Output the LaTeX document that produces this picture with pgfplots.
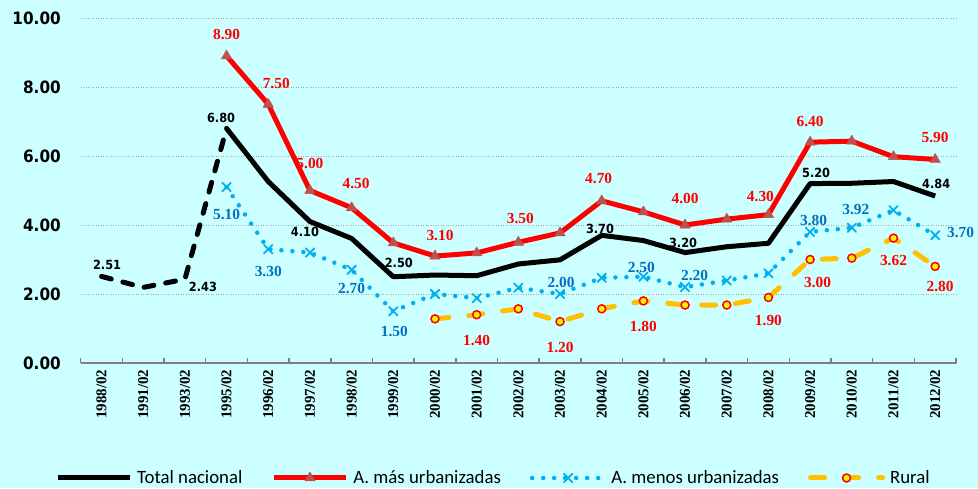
\documentclass[border=0pt]{standalone}
\usepackage{fontspec}
\usepackage{pgfplots}
\pgfplotsset{compat=1.18}
\usepackage{pgfplotstable}
\setmainfont{Liberation Serif}
\newfontfamily\dvs{DejaVu Sans Condensed}
\newfontfamily\carlito{Carlito}
\definecolor{bgcyan}{HTML}{CCFFFF}
\definecolor{axisgray}{HTML}{808080}
\definecolor{gridgray}{HTML}{A6A6A6}
\definecolor{markred}{HTML}{C0504D}
\definecolor{lblue}{HTML}{00B0F0}
\definecolor{dblue}{HTML}{0070C0}
\definecolor{rorange}{HTML}{FFC000}
\newcommand\xfont{\bfseries\fontsize{15}{15}\selectfont}
\newcommand\yfont{\dvs\bfseries\fontsize{17}{17}\selectfont}
\newcommand\blkfont{\dvs\bfseries\fontsize{12.6}{13}\selectfont}
\newcommand\serlab{\bfseries\fontsize{15.4}{16}\selectfont}
\newcommand\legfont{\carlito\fontsize{18.8}{20}\selectfont}

\pgfplotstableread{
x y
0 2.51
1 2.19
2 2.43
3 6.80
}\totaldash
\pgfplotstableread{
x y
3 6.80
4 5.26
5 4.10
6 3.61
7 2.50
8 2.55
9 2.53
10 2.87
11 2.99
12 3.70
13 3.55
14 3.20
15 3.37
16 3.47
17 5.20
18 5.21
19 5.26
20 4.84
}\totalsolid
\pgfplotstableread{
x y
3 8.90
4 7.50
5 5.00
6 4.50
7 3.48
8 3.10
9 3.19
10 3.50
11 3.77
12 4.70
13 4.38
14 4.00
15 4.17
16 4.30
17 6.40
18 6.43
19 5.98
20 5.90
}\mas
\pgfplotstableread{
x y
3 5.10
4 3.30
5 3.20
6 2.70
7 1.50
8 2.00
9 1.88
10 2.18
11 2.00
12 2.47
13 2.50
14 2.20
15 2.39
16 2.60
17 3.80
18 3.92
19 4.43
20 3.70
}\menos
\pgfplotstableread{
x y
8 1.28
9 1.40
10 1.57
11 1.20
12 1.57
13 1.80
14 1.68
15 1.68
16 1.90
17 3.00
18 3.04
19 3.62
20 2.80
}\rural

% label tables: point (x,y), label-centre offset (dx,dy) in pt, label text
\pgfplotstableread{
x y dx dy lab
0 2.51 5.5 11.4 2.51
2 2.43 18 -7.3 2.43
3 6.80 -5.5 10.4 6.80
5 4.10 -5 -10.5 4.10
7 2.50 5.5 13.7 2.50
12 3.70 -1.7 6.5 3.70
14 3.20 -2 10 3.20
17 5.20 6 11 5.20
20 4.84 1 12 4.84
}\blklab
\pgfplotstableread{
x y dx dy lab
3 8.90 0 21.5 8.90
4 7.50 8 21 7.50
5 5.00 0 27.5 5.00
6 4.50 4.5 24.5 4.50
8 3.10 5 20.5 3.10
10 3.50 2 24 3.50
12 4.70 -3 22 4.70
14 4.00 0 27 4.00
16 4.30 -8 18.5 4.30
17 6.40 0 20.7 6.40
20 5.90 0 21.5 5.90
}\maslab
\pgfplotstableread{
x y dx dy lab
3 5.10 0 -27.5 5.10
4 3.30 0 -22 3.30
6 2.70 0 -19 2.70
7 1.50 1 -20 1.50
11 2.00 1 11.5 2.00
13 2.50 -2 9 2.50
14 2.20 9.5 12 2.20
17 3.80 3.5 11 3.80
18 3.92 4 17.8 3.92
20 3.70 25.5 3 3.70
}\menoslab
\pgfplotstableread{
x y dx dy lab
9 1.40 0 -26 1.40
11 1.20 0 -26 1.20
13 1.80 0 -25.6 1.80
16 1.90 0 -23 1.90
17 3.00 7.5 -22.5 3.00
19 3.62 0 -22 3.62
20 2.80 5 -20 2.80
}\rurallab

\pgfplotsset{
  lbl/.style n args={2}{draw=none, mark=none, forget plot,
    nodes near coords, point meta=explicit symbolic,
    every node near coord/.append style={anchor=center, inner sep=0pt, font=#1, text=#2}}
}

\begin{document}
\begin{tikzpicture}
\fill[bgcyan] (-80.7pt,-125pt) rectangle (897.3pt,363pt);
\begin{axis}[
  at={(0pt,0pt)}, anchor=south west,
  scale only axis, width=875.3pt, height=345pt,
  xmin=-0.5, xmax=20.5, ymin=0, ymax=10,
  clip=false,
  axis x line*=bottom, axis y line*=left,
  x axis line style={draw=axisgray, line width=2pt},
  y axis line style={draw=none},
  xtick={0,...,20},
  xticklabels={1988/02,1991/02,1993/02,1995/02,1996/02,1997/02,1998/02,1999/02,2000/02,2001/02,2002/02,2003/02,2004/02,2005/02,2006/02,2007/02,2008/02,2009/02,2010/02,2011/02,2012/02},
  minor xtick={-0.5,0.5,...,20.5},
  ytick={0,2,...,10},
  major tick length=0pt,
  minor tick length=5pt,
  tick align=inside,
  minor tick style={draw=axisgray, line width=1.5pt},
  ymajorgrids,
  major grid style={draw=gridgray, line width=0.8pt, dash pattern=on 1pt off 1.5pt},
  /pgf/number format/.cd, fixed, fixed zerofill, precision=2, assume math mode=true, /pgfplots/.cd,
  xticklabel style={yshift=-6.5pt, rotate=90, anchor=east, font=\xfont, inner sep=0pt},
  yticklabel style={font=\yfont, inner sep=0pt, anchor=east, xshift=-19.7pt},
  legend columns=4,
  legend cell align=left,
  legend style={at={(axis description cs:-0.0294,-0.3333)}, anchor=west,
    draw=none, fill=none, inner sep=0pt, font=\legfont,
    nodes={inner sep=0pt},
    /tikz/every even column/.append style={column sep=29pt},
    /tikz/every odd column/.append style={column sep=5pt}},
  legend image code/.code={\draw[mark repeat=2,mark phase=2,#1] plot coordinates {(0pt,0pt) (36pt,0pt) (72pt,0pt)};},
]
\addplot[black, line width=5pt, line join=round] table[x=x,y=y] {\totalsolid};
\addlegendentry{Total nacional}
\addplot[black, line width=5pt, line cap=round, dash pattern=on 10pt off 12pt, forget plot] table[x=x,y=y] {\totaldash};
\addplot[red, line width=5pt, line join=round, mark=triangle*, mark size=6pt,
  mark options={solid, fill=markred, draw=markred, line width=0.5pt}] table[x=x,y=y] {\mas};
\addlegendentry{A. más urbanizadas}
\addplot[lblue, line width=4.5pt, line cap=round, dash pattern=on 0pt off 11pt, mark=x, mark size=6pt,
  mark options={solid, line width=1.8pt}] table[x=x,y=y] {\menos};
\addlegendentry{A. menos urbanizadas}
\addplot[rorange, line width=5pt, line cap=round, dash pattern=on 14pt off 20pt, mark=*, mark size=4pt,
  mark options={solid, fill=yellow, draw=red, line width=1.5pt}] table[x=x,y=y] {\rural};
\addlegendentry{Rural}

\addplot[lbl={\blkfont}{black}] table[x expr=\thisrow{x}+\thisrow{dx}/41.68, y expr=\thisrow{y}+\thisrow{dy}/34.5, meta=lab] {\blklab};
\addplot[lbl={\serlab}{red}] table[x expr=\thisrow{x}+\thisrow{dx}/41.68, y expr=\thisrow{y}+\thisrow{dy}/34.5, meta=lab] {\maslab};
\addplot[lbl={\serlab}{dblue}] table[x expr=\thisrow{x}+\thisrow{dx}/41.68, y expr=\thisrow{y}+\thisrow{dy}/34.5, meta=lab] {\menoslab};
\addplot[lbl={\serlab}{red}] table[x expr=\thisrow{x}+\thisrow{dx}/41.68, y expr=\thisrow{y}+\thisrow{dy}/34.5, meta=lab] {\rurallab};
\end{axis}
\pgfresetboundingbox
\path (-80.7pt,-125pt) rectangle (897.3pt,363pt);
\end{tikzpicture}
\end{document}
